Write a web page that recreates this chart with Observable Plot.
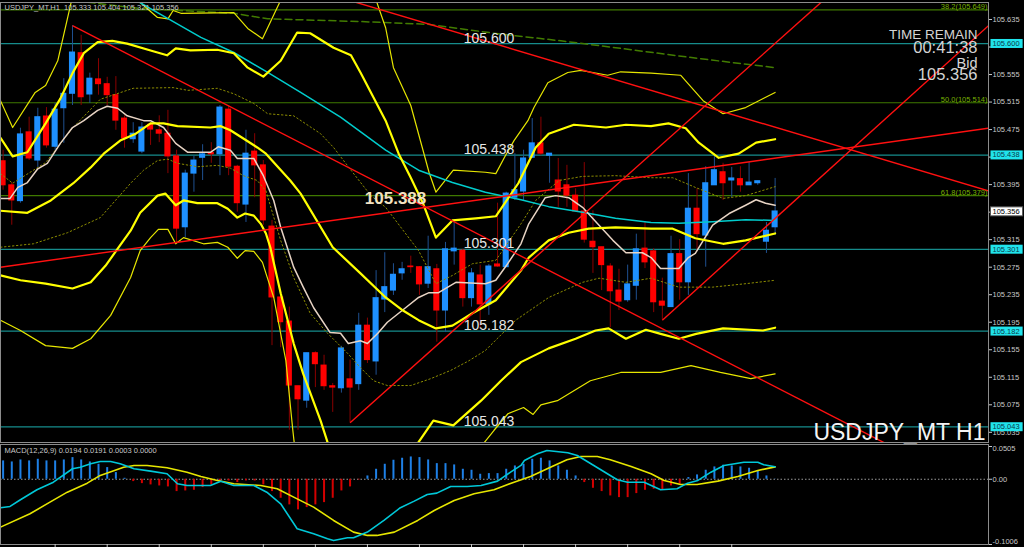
<!DOCTYPE html>
<html><head><meta charset="utf-8">
<script src="https://cdn.jsdelivr.net/npm/d3@7"></script>
<script src="https://cdn.jsdelivr.net/npm/@observablehq/plot@0.6"></script>
<style>
html,body{margin:0;padding:0;background:#000;overflow:hidden;width:1024px;height:547px}
#main,#macd{display:block;line-height:0}
svg{display:block}
</style>
</head><body><div id="main"></div><div id="macd"></div>
<script>
// ---------- data ----------
const open  = [105.429,105.394,105.371,105.471,105.430,105.494,105.450,105.506,105.527,105.586,
  105.526,105.548,105.541,105.525,105.491,105.461,105.443,105.482,105.474,105.469,
  105.436,105.333,105.411,105.434,105.441,105.439,105.504,105.421,105.366,105.443,
  105.423,105.334,105.231,105.196,105.102,105.081,105.150,105.132,105.102,105.099,
  105.112,105.105,105.190,105.138,105.228,105.241,105.266,105.276,105.275,105.251,
  105.272,105.212,105.298,105.299,105.230,105.263,105.221,105.279,105.275,105.376,
  105.385,105.434,105.455,105.437,105.401,105.394,105.379,105.356,105.312,105.304,
  105.276,105.241,105.227,105.248,105.302,105.298,105.225,105.217,105.294,105.253,
  105.360,105.321,105.394,105.413,105.401,105.403,105.394,105.397,105.312,105.333];
const high  = [105.445,105.398,105.477,105.493,105.506,105.507,105.513,105.549,105.626,105.612,
  105.557,105.578,105.551,105.552,105.495,105.485,105.485,105.485,105.495,105.503,
  105.445,105.416,105.437,105.453,105.456,105.510,105.510,105.423,105.474,105.469,
  105.430,105.343,105.231,105.217,105.102,105.150,105.152,105.147,105.106,105.160,
  105.140,105.208,105.201,105.270,105.296,105.280,105.282,105.291,105.276,105.320,
  105.279,105.311,105.343,105.301,105.273,105.278,105.279,105.368,105.384,105.440,
  105.445,105.491,105.493,105.440,105.433,105.423,105.389,105.427,105.357,105.304,
  105.280,105.272,105.278,105.323,105.340,105.302,105.259,105.320,105.315,105.411,
  105.389,105.421,105.440,105.426,105.420,105.421,105.427,105.400,105.340,105.404];
const low   = [105.387,105.336,105.368,105.430,105.420,105.448,105.445,105.455,105.510,105.510,
  105.513,105.525,105.510,105.474,105.448,105.455,105.440,105.452,105.456,105.411,
  105.310,105.318,105.384,105.401,105.426,105.408,105.408,105.355,105.340,105.376,
  105.336,105.161,105.158,105.038,105.038,105.070,105.100,105.096,105.064,105.092,
  105.049,105.096,105.135,105.118,105.209,105.234,105.256,105.266,105.234,105.244,
  105.166,105.180,105.278,105.217,105.217,105.186,105.205,105.275,105.275,105.372,
  105.372,105.433,105.437,105.397,105.362,105.362,105.356,105.310,105.266,105.241,
  105.187,105.212,105.224,105.227,105.273,105.209,105.198,105.217,105.227,105.234,
  105.299,105.275,105.394,105.372,105.376,105.384,105.394,105.394,105.295,105.321];
const close = [105.394,105.372,105.468,105.433,105.493,105.452,105.504,105.527,105.587,105.522,
  105.549,105.541,105.525,105.488,105.462,105.469,105.478,105.475,105.469,105.436,
  105.331,105.411,105.430,105.439,105.439,105.507,105.421,105.368,105.440,105.423,
  105.343,105.231,105.195,105.103,105.083,105.150,105.134,105.102,105.100,105.157,
  105.100,105.190,105.140,105.230,105.246,105.264,105.272,105.275,105.250,105.275,
  105.212,105.301,105.302,105.230,105.266,105.221,105.276,105.276,105.382,105.387,
  105.433,105.455,105.440,105.440,105.385,105.379,105.356,105.315,105.304,105.278,
  105.240,105.225,105.250,105.301,105.282,105.224,105.219,105.294,105.253,105.360,
  105.323,105.397,105.416,105.397,105.404,105.394,105.398,105.400,105.328,105.356];

// indicator lines as [bar index, price]
const bbUpper = [[-0.3,105.463],[1.1,105.436],[2.8,105.442],[4.9,105.484],[6.6,105.520],[8.0,105.557],[9.3,105.586],[10.9,105.602],[12.6,105.604],[14.3,105.600],[17.0,105.590],[18.9,105.583],[19.9,105.593],[21.6,105.590],[24.7,105.591],[26.6,105.586],[28.2,105.565],[30.0,105.552],[32.0,105.575],[33.9,105.616],[35.4,105.615],[38.1,105.594],[40.1,105.583],[41.2,105.558],[44.1,105.488],[45.6,105.440],[47.0,105.405],[48.4,105.368],[49.9,105.318],[51.8,105.343],[54.5,105.346],[56.8,105.349],[59.4,105.397],[61.4,105.449],[62.9,105.469],[65.8,105.482],[69.5,105.478],[71.8,105.482],[74.7,105.480],[76.7,105.484],[78.7,105.477],[80.2,105.456],[82.5,105.434],[84.8,105.440],[86.8,105.456],[89,105.461]];
const bbMiddle = [[-0.3,105.357],[2.8,105.354],[5.5,105.372],[8.1,105.397],[10.1,105.420],[11.6,105.440],[13.5,105.459],[15.3,105.469],[17.0,105.484],[18.5,105.484],[20.1,105.480],[23.9,105.478],[25.1,105.480],[26.2,105.474],[27.7,105.462],[29.3,105.449],[30.3,105.440],[33.1,105.401],[34.3,105.382],[38.0,105.304],[41.2,105.266],[44.1,105.231],[46.1,105.212],[47.9,105.198],[49.9,105.186],[51.8,105.190],[54.1,105.208],[56.8,105.227],[59.7,105.270],[60.6,105.289],[62.9,105.314],[65.2,105.325],[67.5,105.331],[70.6,105.333],[74.7,105.331],[77.2,105.331],[79.8,105.317],[83.0,105.309],[85.6,105.314],[89,105.324]];
const bbLower = [[-0.3,105.263],[2.0,105.256],[4.9,105.251],[8.0,105.244],[10.1,105.253],[11.8,105.277],[13.5,105.307],[14.7,105.328],[15.8,105.354],[17.8,105.379],[18.7,105.382],[19.9,105.365],[20.8,105.372],[22.4,105.368],[24.7,105.368],[25.9,105.360],[27.0,105.347],[27.9,105.353],[28.9,105.350],[29.7,105.338],[30.3,105.324],[30.8,105.304],[32.0,105.237],[33.5,105.164],[34.6,105.120],[36.6,105.052],[37.7,105.009],[41.2,104.950],[44.7,104.965],[47.8,105.019],[49.6,105.052],[51.9,105.045],[55.1,105.081],[57.4,105.110],[59.7,105.137],[62.9,105.157],[66.0,105.171],[68.3,105.183],[69.8,105.186],[71.8,105.171],[74.1,105.184],[75.8,105.178],[77.9,105.171],[79.9,105.178],[83.0,105.186],[87.6,105.183],[89,105.187]];
const bbUpper3 = [[-0.3,105.517],[1.1,105.478],[3.7,105.529],[4.9,105.539],[6.3,105.575],[7.9,105.663],[11.2,105.684],[15.5,105.663],[17.8,105.638],[19.0,105.636],[19.6,105.648],[20.5,105.644],[26.6,105.645],[28.2,105.622],[29.9,105.607],[32.0,105.663],[34.3,105.750],[38.9,105.779],[41.8,105.706],[43.0,105.663],[44.1,105.623],[45.0,105.565],[47.0,105.510],[49.1,105.413],[49.9,105.384],[51.9,105.416],[55.6,105.413],[56.8,105.411],[57.9,105.437],[58.9,105.459],[60.5,105.488],[61.2,105.507],[62.8,105.543],[65.1,105.558],[66.6,105.561],[69.7,105.554],[71.2,105.559],[74.7,105.557],[78.1,105.554],[80.7,105.517],[83.0,105.498],[85.6,105.507],[89,105.529]];
const bbLower3 = [[-0.3,105.198],[2.0,105.183],[4.9,105.161],[8.0,105.157],[10.1,105.171],[12.4,105.205],[14.7,105.260],[15.8,105.299],[17.0,105.318],[17.9,105.330],[19.0,105.330],[19.9,105.309],[20.8,105.318],[23.1,105.309],[24.7,105.311],[25.9,105.304],[27.0,105.288],[27.9,105.299],[28.9,105.298],[29.9,105.282],[30.3,105.266],[31.2,105.231],[32.6,105.139],[33.4,105.038],[34.3,104.936],[38.9,104.849],[45.8,104.878],[51.6,104.936],[55.4,105.019],[56.6,105.038],[58.2,105.062],[60.0,105.071],[61.1,105.061],[62.0,105.075],[63.9,105.081],[67.7,105.110],[71.2,105.122],[75.8,105.122],[79.3,105.132],[82.7,105.122],[86.2,105.113],[89,105.120]];
const dotUpper = [[-0.3,105.411],[1.1,105.397],[4.9,105.427],[8.0,105.477],[11.2,105.519],[15.0,105.535],[19.6,105.536],[21.3,105.532],[24.7,105.535],[26.6,105.527],[28.9,105.513],[30.5,105.498],[33.5,105.495],[36.6,105.469],[38.1,105.449],[40.1,105.416],[42.4,105.379],[44.1,105.362],[47.9,105.299],[49.9,105.251],[51.8,105.263],[54.1,105.280],[56.8,105.285],[59.7,105.338],[61.4,105.372],[64.1,105.401],[66.8,105.407],[70.6,105.408],[74.7,105.405],[77.2,105.405],[79.8,105.391],[83.0,105.375],[85.6,105.379],[89,105.392]];
const dotLower = [[-0.3,105.304],[3.5,105.309],[7.4,105.325],[11.2,105.347],[14.7,105.397],[16.2,105.416],[17.8,105.430],[19.0,105.432],[20.1,105.426],[22.4,105.421],[24.7,105.423],[26.2,105.419],[27.7,105.408],[29.3,105.401],[30.3,105.386],[32.0,105.314],[33.5,105.260],[35.4,105.208],[37.4,105.179],[39.7,105.150],[41.2,105.129],[42.7,105.110],[44.3,105.103],[47.0,105.103],[49.3,105.113],[51.6,105.125],[53.7,105.139],[55.6,105.154],[59.1,105.198],[62.9,105.231],[66.8,105.253],[68.7,105.259],[71.8,105.253],[74.7,105.259],[77.9,105.246],[81.8,105.246],[85.6,105.251],[89,105.256]];
const cyanMA = [[-0.3,105.764],[7.8,105.714],[15.3,105.663],[22.8,105.609],[26.6,105.587],[30.5,105.558],[34.3,105.529],[38.9,105.493],[44.1,105.445],[47.9,105.416],[51.8,105.398],[55.6,105.384],[59.7,105.373],[62.9,105.363],[66.8,105.355],[70.6,105.346],[74.7,105.340],[77.9,105.339],[81.8,105.341],[85.6,105.344],[89,105.343]];
const shortMA = [[-0.3,105.375],[0.8,105.375],[1.7,105.391],[2.8,105.398],[4.0,105.418],[5.1,105.426],[6.6,105.455],[8.0,105.478],[9.3,105.488],[10.9,105.503],[12.0,105.509],[13.2,105.506],[14.3,105.495],[16.2,105.488],[17.0,105.488],[18.5,105.478],[19.9,105.455],[21.3,105.442],[23.9,105.442],[24.8,105.450],[26.2,105.445],[27.0,105.433],[28.9,105.433],[30.0,105.408],[31.2,105.372],[32.0,105.333],[33.5,105.275],[34.6,105.246],[35.8,105.216],[37.7,105.180],[38.9,105.179],[39.8,105.164],[41.2,105.168],[42.0,105.164],[43.2,105.179],[44.3,105.195],[46.4,105.216],[47.9,105.231],[49.1,105.238],[50.2,105.238],[52.2,105.253],[55.6,105.251],[56.8,105.256],[58.0,105.277],[59.7,105.309],[60.6,105.338],[62.5,105.376],[63.7,105.379],[65.2,105.376],[66.8,105.362],[68.7,105.336],[70.3,105.314],[71.8,105.296],[73.7,105.296],[74.7,105.289],[75.8,105.273],[77.9,105.273],[79.0,105.289],[79.8,105.295],[81.8,105.336],[83.7,105.353],[85.6,105.365],[86.8,105.373],[87.9,105.368],[89,105.365]];
const longMA = [[-0.3,105.675],[15.8,105.651],[26.6,105.644],[30.5,105.636],[41.2,105.632],[49.0,105.628],[56.6,105.615],[64.3,105.604],[71.2,105.593],[80.4,105.578],[89,105.565]];

// drawn objects
const levelPrices = [105.600, 105.438, 105.301, 105.182, 105.043];
const fibPrices = [105.649, 105.514, 105.379];
const fibNames = ["38.2", "50.0", "61.8"];
const trendK1 = [8, 40, 76, -0.3, 34];
const trendP1 = [105.626, 105.049, 105.198, 105.275, 105.685];
const trendK2 = [113.6, 100, 113.6, 113.6, 113.6];
const trendP2 = [104.942, 105.724, 105.626, 105.477, 105.386];
const markedPrice = 105.388;
const bidPrice = 105.356;
const priceTicks = [105.635,105.595,105.555,105.515,105.475,105.435,105.395,105.355,105.315,105.275,105.235,105.195,105.155,105.115,105.075,105.035];
const titleText = "USDJPY_MT,H1  105.333 105.404 105.321 105.356";
const timeRemain = "00:41:38";
const symbolText = "USDJPY_MT H1";

// MACD
const histogram = [0.0283,0.0267,0.0298,0.0283,0.0308,0.0283,0.0283,0.0298,0.0334,0.0298,
  0.0267,0.0231,0.0180,0.0103,0.0015,-0.0036,-0.0067,-0.0087,-0.0103,-0.0118,
  -0.0190,-0.0180,-0.0170,-0.0128,-0.0087,-0.0036,-0.0026,-0.0051,-0.0026,-0.0026,
  -0.0087,-0.0190,-0.0293,-0.0395,-0.0472,-0.0437,-0.0395,-0.0360,-0.0293,-0.0180,
  -0.0118,-0.0010,0.0051,0.0154,0.0231,0.0293,0.0324,0.0344,0.0334,0.0298,
  0.0241,0.0241,0.0221,0.0154,0.0139,0.0077,0.0087,0.0087,0.0154,0.0205,
  0.0231,0.0308,0.0324,0.0283,0.0205,0.0139,0.0051,-0.0051,-0.0139,-0.0190,
  -0.0257,-0.0283,-0.0283,-0.0221,-0.0170,-0.0154,-0.0170,-0.0103,-0.0077,0.0026,
  0.0067,0.0139,0.0190,0.0216,0.0205,0.0190,0.0170,0.0128,0.0051,0.0003];
const macdLine = [[-0.3,-0.0439],[0.8,-0.0419],[2.0,-0.0316],[3.9,-0.0162],[5.8,-0.0045],[8.0,0.0162],[8.9,0.0186],[10.1,0.0239],[11.2,0.0274],[12.4,0.0274],[13.5,0.0239],[15.1,0.0162],[17.0,0.0125],[18.9,0.0085],[20.1,-0.0069],[21.2,-0.0096],[23.9,-0.0096],[25.1,-0.0029],[26.6,-0.0096],[28.9,-0.0096],[30.4,-0.0199],[32.0,-0.0378],[33.9,-0.0763],[35.8,-0.0840],[37.4,-0.0917],[38.1,-0.0943],[39.7,-0.0901],[40.4,-0.0901],[42.0,-0.0815],[43.9,-0.0635],[45.8,-0.0439],[47.4,-0.0337],[48.9,-0.0234],[50.0,-0.0214],[51.6,-0.0111],[53.5,-0.0111],[55.1,-0.0096],[57.0,-0.0029],[58.5,0.0109],[59.7,0.0213],[60.1,0.0290],[61.6,0.0393],[62.7,0.0444],[65.1,0.0408],[66.2,0.0367],[68.1,0.0213],[70.8,-0.0008],[72.0,-0.0045],[73.9,-0.0045],[75.8,-0.0162],[77.7,-0.0146],[78.9,-0.0060],[80.1,-0.0018],[81.6,0.0109],[83.1,0.0213],[85.4,0.0263],[87.0,0.0263],[87.7,0.0223],[89,0.0194]];
const signalLine = [[-0.3,-0.0738],[3.1,-0.0532],[5.4,-0.0353],[7.4,-0.0199],[9.7,-0.0060],[11.2,0.0059],[13.9,0.0186],[15.1,0.0213],[16.6,0.0213],[18.9,0.0177],[21.2,0.0109],[22.8,0.0043],[24.7,-0.0018],[26.6,-0.0069],[29.7,-0.0096],[31.6,-0.0146],[33.5,-0.0276],[35.8,-0.0430],[38.1,-0.0635],[40.4,-0.0815],[42.0,-0.0866],[43.1,-0.0866],[45.1,-0.0815],[47.8,-0.0635],[49.7,-0.0481],[52.0,-0.0327],[54.3,-0.0224],[56.6,-0.0162],[58.9,-0.0045],[60.8,0.0043],[63.1,0.0186],[65.0,0.0300],[66.6,0.0351],[68.5,0.0351],[70.0,0.0300],[72.4,0.0197],[74.7,0.0085],[76.2,-0.0018],[78.1,-0.0080],[80.0,-0.0080],[82.4,-0.0029],[84.7,0.0043],[87.0,0.0136],[89,0.0191]];
const macdTicks = [0.0505, 0, -0.1006];
const macdTitle = "MACD(12,26,9) 0.0194 0.0191 0.0003 0.0000";
const timeTicks = [6,12,18,24,30,36,42,48,54,60,66,72,78,84];

// ---------- build ----------
const candles = open.map((o, i) => ({k: i, o, h: high[i], l: low[i], c: close[i], up: close[i] >= o}));
const pts = a => a.map(([k, p]) => ({k, p}));
const trends = trendK1.map((k1, i) => ({k1, p1: trendP1[i], k2: trendK2[i], p2: trendP2[i]}));
const fibs = fibPrices.map((p, i) => ({p, label: `${fibNames[i]}(${p.toFixed(3)})`}));
const hist = histogram.map((v, k) => ({k, v}));
const boxed = [...levelPrices, bidPrice];
const xDomain = [-0.3, 113.6];
const FONT = "'Liberation Sans', Arial, sans-serif";
const baseStyle = {background: "#000", color: "#c8c8c8", fontFamily: FONT, fontSize: "7.5px", overflow: "visible"};
const LEVEL_TEXT = "#0c3a4a", BID_TEXT = "#010101";
const macdFmt = d => d === 0 ? "0.00" : d.toFixed(4);

const yellow = "#ffff00";
const lineOpts = (stroke, w, extra = {}) => ({x: "k", y: "p", stroke, strokeWidth: w, clip: true, ...extra});

const main = Plot.plot({
  width: 1024, height: 443,
  marginTop: 2, marginBottom: 1, marginLeft: 0, marginRight: 36,
  x: {domain: xDomain, axis: null},
  y: {domain: [105.0202, 105.6597], label: null},
  style: baseStyle,
  marks: [
    Plot.ruleY(fibPrices, {stroke: "#3f7800", strokeWidth: 1.2}),
    Plot.ruleY(levelPrices, {stroke: "#168c8c", strokeWidth: 1.3}),
    Plot.ruleX(candles, {x: "k", y1: "l", y2: "h", stroke: d => d.up ? "#1f5090" : "#8a0000", strokeWidth: 1, clip: true}),
    Plot.rect(candles, {x1: d => d.k - 0.35, x2: d => d.k + 0.35,
      y1: d => Math.min(d.o, d.c), y2: d => Math.max(d.o, d.c),
      insetTop: -0.5, insetBottom: -0.5,
      fill: d => d.up ? "#1e90ff" : "#ff0000", clip: true}),
    Plot.line(pts(longMA), lineOpts("#427c00", 1.5, {strokeDasharray: "7,4"})),
    Plot.line(pts(dotUpper), lineOpts("#8c8c00", 1, {strokeDasharray: "1.5,2.5"})),
    Plot.line(pts(dotLower), lineOpts("#8c8c00", 1, {strokeDasharray: "1.5,2.5"})),
    Plot.line(pts(bbUpper3), lineOpts("#e6e600", 1.2)),
    Plot.line(pts(bbLower3), lineOpts("#e6e600", 1.2)),
    Plot.line(pts(cyanMA), lineOpts("#00cccc", 1.5)),
    Plot.line(pts(shortMA), lineOpts("#e8d4c4", 1.5)),
    Plot.line(pts(bbUpper), lineOpts(yellow, 2.2)),
    Plot.line(pts(bbMiddle), lineOpts(yellow, 2.2)),
    Plot.line(pts(bbLower), lineOpts(yellow, 2.2)),
    Plot.link(trends, {x1: "k1", y1: "p1", x2: "k2", y2: "p2", stroke: "#ff1010", strokeWidth: 1.4, clip: true}),
    Plot.text(levelPrices, {x: () => 53.1, y: d => d, text: d => d.toFixed(3), textAnchor: "start", lineAnchor: "bottom", dy: -1, fontSize: 14, fill: "#e6e6e6"}),
    Plot.text([markedPrice], {x: () => 41.7, y: d => d, text: d => d.toFixed(3), textAnchor: "start", lineAnchor: "bottom", dy: 15, fontSize: 17, fontWeight: "bold", fill: "#f3e2c2"}),
    Plot.text(fibs, {y: "p", text: "label", frameAnchor: "right", textAnchor: "end", lineAnchor: "bottom", dx: -1, dy: -0.5, fontSize: 7.5, fill: "#78b000"}),
    Plot.text([titleText], {frameAnchor: "top-left", textAnchor: "start", lineAnchor: "top", dx: 4, dy: 2, fontSize: 7.5, fill: "#c8c8c8"}),
    Plot.text(["TIME REMAIN"], {frameAnchor: "top-right", textAnchor: "end", lineAnchor: "top", dx: -11, dy: 27, fontSize: 13.5, fill: "#d4d4d4"}),
    Plot.text([timeRemain], {frameAnchor: "top-right", textAnchor: "end", lineAnchor: "top", dx: -11, dy: 39, fontSize: 16.5, fill: "#d4d4d4"}),
    Plot.text(["Bid"], {frameAnchor: "top-right", textAnchor: "end", lineAnchor: "top", dx: -11, dy: 55, fontSize: 14.5, fill: "#d4d4d4"}),
    Plot.text([bidPrice], {frameAnchor: "top-right", text: d => d.toFixed(3), textAnchor: "end", lineAnchor: "top", dx: -11, dy: 66, fontSize: 16.5, fill: "#d4d4d4"}),
    Plot.text([symbolText], {frameAnchor: "bottom-right", textAnchor: "end", lineAnchor: "bottom", dx: -3, dy: -3, fontSize: 23, fill: "#f4f4f4"}),
    Plot.frame({stroke: "#8c8c8c"}),
    // tick labels that sit under a price box are hidden in the original, so only their tick is drawn
    Plot.axisY(priceTicks, {anchor: "right", tickSize: 3, tickPadding: 1,
      tickFormat: d => boxed.some(b => Math.abs(b - d) < 0.006) ? "" : d.toFixed(3), fontSize: 7.5, label: null}),
    Plot.text(levelPrices, {y: d => d, text: d => d.toFixed(3), frameAnchor: "right", textAnchor: "start", dx: 4, fontSize: 7.5, fill: LEVEL_TEXT, ariaDescription: "levelbox"}),
    Plot.text([bidPrice], {y: d => d, text: d => d.toFixed(3), frameAnchor: "right", textAnchor: "start", dx: 4, fontSize: 7.5, fill: BID_TEXT, ariaDescription: "bidbox"})
  ]
});

const macd = Plot.plot({
  width: 1024, height: 104,
  marginTop: 1, marginBottom: 3, marginLeft: 0, marginRight: 36,
  x: {domain: xDomain},
  y: {domain: [-0.1006, 0.0536], label: null},
  style: baseStyle,
  marks: [
    Plot.ruleY([0], {stroke: "#9a9a9a", strokeDasharray: "1.5,2"}),
    Plot.ruleX(hist, {x: "k", y1: 0, y2: "v", stroke: d => d.v >= 0 ? "#1e80e6" : "#d40000", strokeWidth: 2, clip: true}),
    Plot.line(pts(signalLine), {x: "k", y: "p", stroke: "#e6e600", strokeWidth: 1.6, clip: true}),
    Plot.line(pts(macdLine), {x: "k", y: "p", stroke: "#00c8d8", strokeWidth: 1.6, clip: true}),
    Plot.text([macdTitle], {frameAnchor: "top-left", textAnchor: "start", lineAnchor: "top", dx: 4, dy: 3, fontSize: 7.5, fill: "#c8c8c8"}),
    Plot.frame({stroke: "#8c8c8c"}),
    Plot.axisY(macdTicks, {anchor: "right", tickSize: 3, tickFormat: () => "", label: null}),
    Plot.text(macdTicks.filter(d => d > 0), {y: d => d, text: macdFmt, frameAnchor: "right", textAnchor: "start", lineAnchor: "top", dx: 4, dy: -1, fontSize: 7.5, fill: "#c8c8c8"}),
    Plot.text(macdTicks.filter(d => d === 0), {y: d => d, text: macdFmt, frameAnchor: "right", textAnchor: "start", lineAnchor: "middle", dx: 4, fontSize: 7.5, fill: "#c8c8c8"}),
    Plot.text(macdTicks.filter(d => d < 0), {y: d => d, text: macdFmt, frameAnchor: "right", textAnchor: "start", lineAnchor: "bottom", dx: 4, dy: -1, fontSize: 7.5, fill: "#c8c8c8"}),
    Plot.axisX(timeTicks, {anchor: "bottom", tickSize: 3, tickFormat: () => "", label: null})
  ]
});

document.getElementById("main").appendChild(main);
document.getElementById("macd").appendChild(macd);

function addBoxes(svg, label, textFill, fill, stroke) {
  const groups = Array.from(svg.querySelectorAll("g")).filter(g =>
    g.getAttribute("aria-description") === label ||
    (g.getAttribute("fill") || "").toLowerCase() === textFill);
  groups.forEach(g => {
    g.querySelectorAll("text").forEach(t => {
      const b = t.getBBox();
      const r = document.createElementNS("http://www.w3.org/2000/svg", "rect");
      r.setAttribute("x", b.x - 2);
      r.setAttribute("y", b.y);
      r.setAttribute("width", b.width + 5);
      r.setAttribute("height", b.height);
      r.setAttribute("fill", fill);
      r.setAttribute("stroke", stroke || "none");
      const tr = t.getAttribute("transform");
      if (tr) r.setAttribute("transform", tr);
      t.parentNode.insertBefore(r, t);
    });
  });
}
addBoxes(main, "levelbox", LEVEL_TEXT, "#20e4ec");
addBoxes(main, "bidbox", BID_TEXT, "#ffffff", "#555");
</script></body></html>
